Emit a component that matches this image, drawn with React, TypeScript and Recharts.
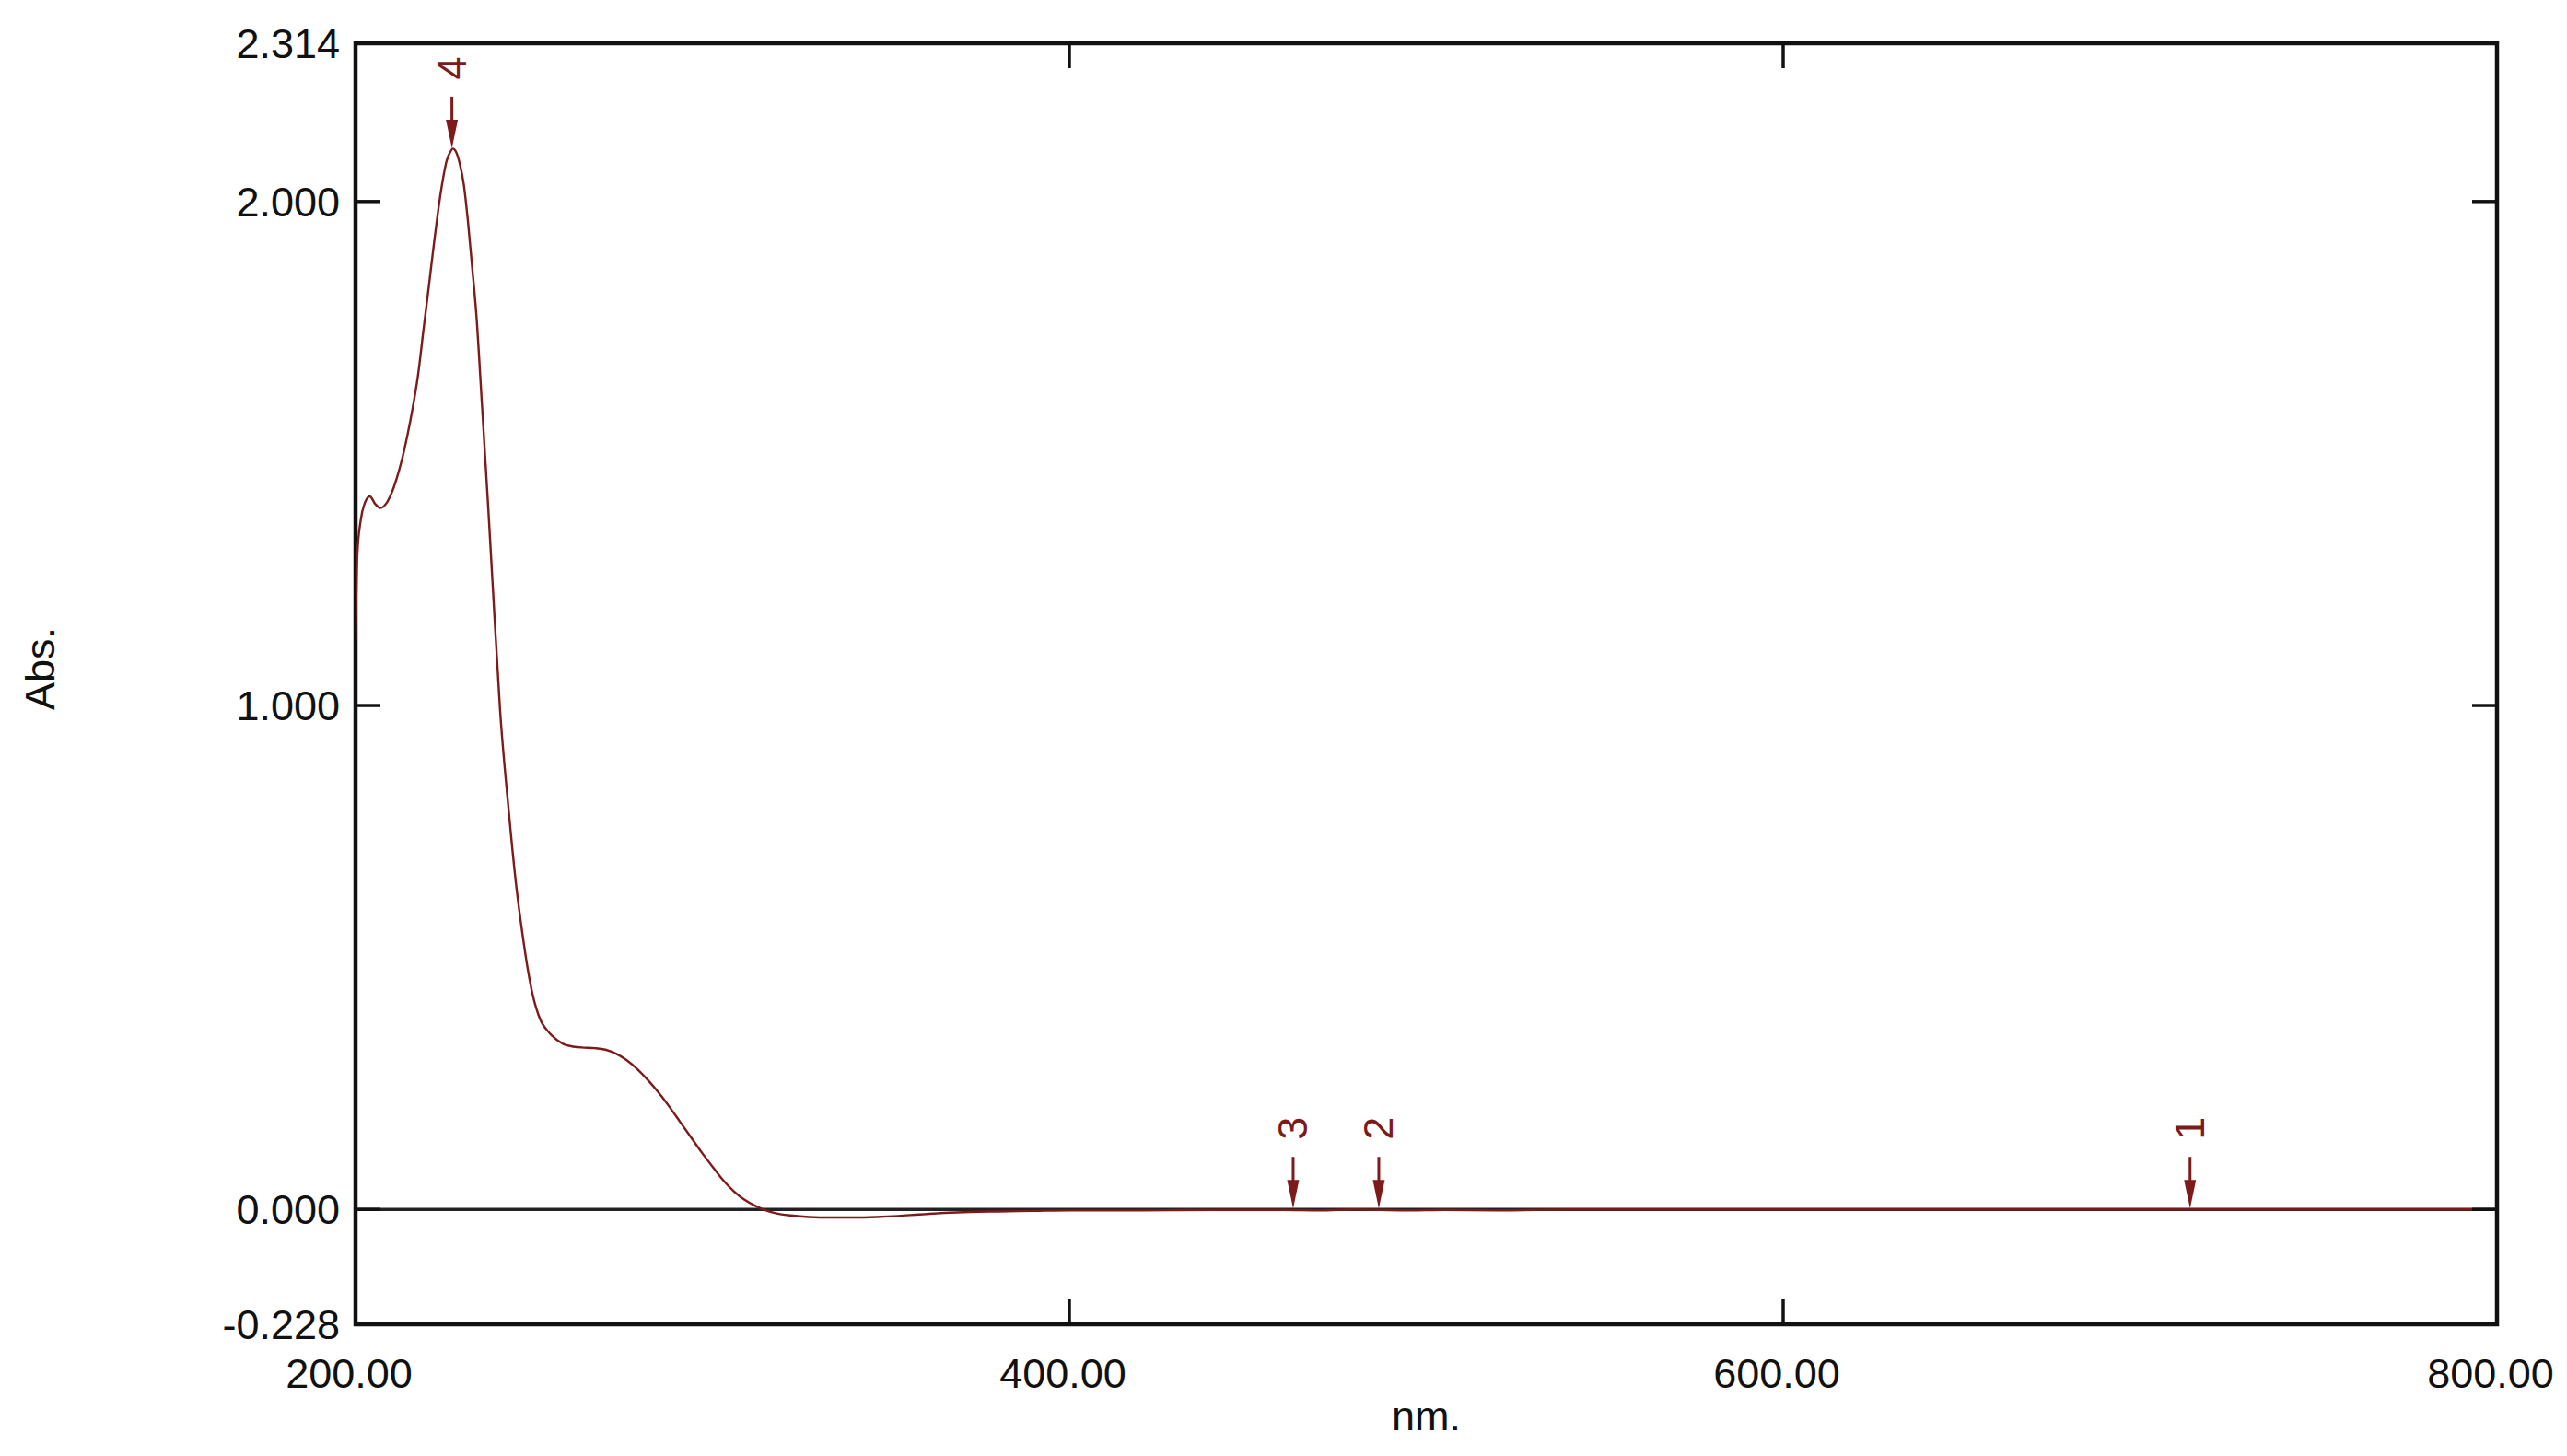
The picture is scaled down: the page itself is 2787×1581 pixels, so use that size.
import { ComposedChart, Line, XAxis, YAxis, ReferenceLine, ReferenceArea, ReferenceDot } from 'recharts';

// UV-Vis spectrum (nm vs Abs.)
const wavelength = [
  200, 200.5, 201.5, 202.5, 204, 205.5, 207, 208.5, 210, 211.5, 213, 214.5, 216, 217.5, 219, 220.5,
  222, 223.5, 224.5, 225.5, 226.5, 227.3, 228.2, 229.2, 230.3, 231.5, 232.6, 233.8, 235.4, 237.2,
  238.5, 240.5, 242.8, 244.9, 246.8, 248.3, 249.5, 250.6, 252, 253.5, 255, 258, 261, 264, 267, 270,
  273, 276, 279, 282, 285, 288, 291, 294, 297, 300, 303, 306, 309, 312, 315, 318, 322, 327, 333,
  340, 346, 352, 358, 365, 372, 380, 390, 400, 420, 440, 460, 470, 480, 495, 505, 520, 540, 600,
  650, 700, 750, 800,
];
const absorbance = [
  1.13, 1.30, 1.37, 1.40, 1.415, 1.40, 1.392, 1.40, 1.42, 1.45, 1.488, 1.535, 1.59, 1.655, 1.743, 1.83,
  1.918, 2.0, 2.045, 2.08, 2.098, 2.105, 2.098, 2.075, 2.035, 1.96, 1.875, 1.78, 1.60, 1.39,
  1.23, 0.99, 0.80, 0.65, 0.545, 0.475, 0.43, 0.40, 0.373, 0.357, 0.345, 0.329, 0.323, 0.321, 0.320, 0.317,
  0.309, 0.296, 0.278, 0.256, 0.231, 0.203, 0.173, 0.143, 0.113, 0.085, 0.058, 0.036, 0.019, 0.007, -0.002, -0.008, -0.012, -0.015, -0.016,
  -0.016, -0.015, -0.013, -0.010, -0.007, -0.005, -0.004, -0.003, -0.002, -0.002, -0.001, -0.001, -0.002, 0.0, -0.002, -0.001, -0.002, 0.0, 0.0,
  0.0, 0.0, 0.0, 0.0,
];

const peakNumbers = ['4', '3', '2', '1'];
const peakWavelengths = [227.0, 462.7, 486.7, 714.0];
const peakAbs = [2.104, 0.0, 0.0, 0.0];

const xTicks = [200, 400, 600, 800];
const yTicks = [-0.228, 0, 1, 2, 2.314];

const spectrum = wavelength.map((nm, i) => ({ nm, abs: absorbance[i] }));

const FONT = '"Liberation Sans", Arial, sans-serif';
const RED = '#7d1a1a';
const PLOT = { left: 386, right: 2711, top: 47, bottom: 1438 };
const TICK_LEN = 27;

const XTick = (props: any) => {
  const { x, payload } = props;
  const v = payload.value;
  const inner = v !== 200 && v !== 800;
  return (
    <g>
      {inner && (
        <>
          <line x1={x} x2={x} y1={PLOT.bottom} y2={PLOT.bottom - TICK_LEN} stroke="#111" strokeWidth={3.5} />
          <line x1={x} x2={x} y1={PLOT.top} y2={PLOT.top + TICK_LEN} stroke="#111" strokeWidth={3.5} />
        </>
      )}
      <text x={x - 7} y={1507} textAnchor="middle" fontFamily={FONT} fontSize={45} fill="#111">
        {v.toFixed(2)}
      </text>
    </g>
  );
};

const YTick = (props: any) => {
  const { y, payload } = props;
  const v = payload.value;
  const inner = v === 0 || v === 1 || v === 2;
  return (
    <g>
      {inner && (
        <>
          <line x1={PLOT.left} x2={PLOT.left + TICK_LEN} y1={y} y2={y} stroke="#111" strokeWidth={3.5} />
          <line x1={PLOT.right} x2={PLOT.right - TICK_LEN} y1={y} y2={y} stroke="#111" strokeWidth={3.5} />
        </>
      )}
      <text x={PLOT.left - 17} y={y} dy="0.36em" textAnchor="end" fontFamily={FONT} fontSize={45} fill="#111">
        {v.toFixed(3)}
      </text>
    </g>
  );
};

const peakMarker = (label: string) => (props: any) => {
  const { cx, cy } = props;
  const ly = cy - 88;
  return (
    <g>
      <line x1={cx} x2={cx} y1={cy - 57} y2={cy - 20} stroke={RED} strokeWidth={3} />
      <polygon points={`${cx - 6.5},${cy - 32} ${cx + 6.5},${cy - 32} ${cx},${cy - 1}`} fill={RED} />
      <text
        x={cx}
        y={ly}
        transform={`rotate(-90 ${cx} ${ly})`}
        textAnchor="middle"
        dominantBaseline="central"
        fontFamily={FONT}
        fontSize={45}
        fill={RED}
      >
        {label}
      </text>
    </g>
  );
};

export default function App() {
  return (
    <div style={{ position: 'absolute', left: 0, top: 0, width: 2787, height: 1581, background: '#fff' }}>
      <ComposedChart
        width={2787}
        height={1581}
        data={spectrum}
        margin={{ top: PLOT.top, right: 2787 - PLOT.right, bottom: 0, left: 0 }}
      >
        <XAxis
          dataKey="nm"
          type="number"
          domain={[200, 800]}
          ticks={xTicks}
          allowDataOverflow
          height={1581 - PLOT.bottom}
          axisLine={false}
          tickLine={false}
          tick={<XTick />}
          interval={0}
          label={{
            value: 'nm.',
            position: 'insideBottom',
            offset: 28,
            fontFamily: FONT,
            fontSize: 45,
            fill: '#111',
          }}
        />
        <YAxis
          type="number"
          domain={[-0.228, 2.314]}
          ticks={yTicks}
          allowDataOverflow
          width={PLOT.left}
          axisLine={false}
          tickLine={false}
          tick={<YTick />}
          interval={0}
          label={{
            content: () => (
              <text
                x={43}
                y={726}
                transform="rotate(-90 43 726)"
                textAnchor="middle"
                dominantBaseline="central"
                fontFamily={FONT}
                fontSize={45}
                fill="#111"
              >
                Abs.
              </text>
            ),
          }}
        />
        <ReferenceArea x1={200} x2={800} y1={-0.228} y2={2.314} fill="none" stroke="#111" strokeWidth={4.5} />
        <ReferenceLine y={0} stroke="#222" strokeWidth={3.5} />
        <Line
          type="monotone"
          dataKey="abs"
          stroke={RED}
          strokeWidth={2.4}
          dot={false}
          isAnimationActive={false}
        />
        {peakNumbers.map((n, i) => (
          <ReferenceDot key={n} x={peakWavelengths[i]} y={peakAbs[i]} r={0} shape={peakMarker(n)} />
        ))}
      </ComposedChart>
    </div>
  );
}
